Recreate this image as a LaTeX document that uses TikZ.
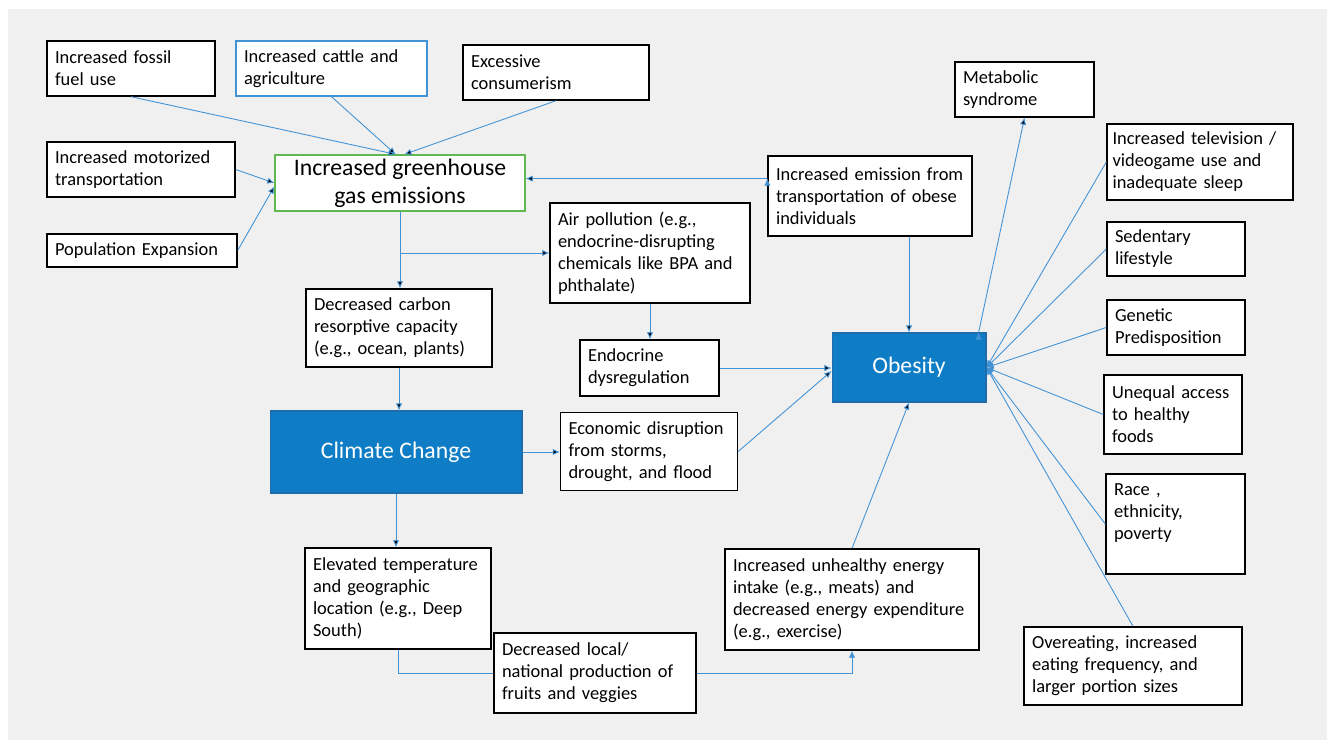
\documentclass[tikz,border=0pt]{standalone}
\usepackage{fontspec}
\setmainfont{Carlito}
\usepackage{xcolor}
\usetikzlibrary{arrows.meta,positioning}
\definecolor{linkblue}{RGB}{66,146,214}
\definecolor{fillblue}{RGB}{14,125,198}
\definecolor{edgeblue}{RGB}{30,108,172}
\definecolor{ghggreen}{RGB}{96,184,78}
\definecolor{canvas}{RGB}{240,240,240}

\begin{document}
\begin{tikzpicture}[x=0.02cm,y=-0.02cm,>={Latex[length=4pt,width=3.6pt]},
    font=\fontsize{10.5}{12.5}\selectfont,
    box/.style 2 args={draw,line width=0.8pt,fill=white,align=left,inner xsep=0.16cm,text width=#1,minimum height=#2},
    bigbox/.style={draw=edgeblue,fill=fillblue,text=white,line width=0.6pt,font=\fontsize{13.5}{16}\selectfont},
    link/.style={draw=linkblue,line width=0.5pt}]

    \useasboundingbox (0,0) rectangle (1327,740);
    \fill[canvas] (8,9) rectangle (1327,740);

    % Sources of emissions
    \node [box={3.04cm}{1.1cm}] at (131,68.5) (fossil) {Increased fossil\\fuel use};
    \node [box={3.5cm}{1.1cm},draw=linkblue] at (331.5,68.5) (cattle) {Increased cattle and\\agriculture};
    \node [box={3.4cm}{1.1cm}] at (556,72.5) (consumer) {Excessive\\consumerism};
    \node [box={3.44cm}{1.1cm}] at (141,169.5) (motor) {Increased motorized\\transportation};
    \node [box={3.48cm}{0.66cm}] at (142,250.5) (popul) {Population Expansion};
    \node [draw=ghggreen,line width=0.8pt,fill=white,minimum width=5cm,minimum height=1.12cm,inner ysep=0pt,align=center,font=\fontsize{13.5}{16}\selectfont] at (400,183) (ghg) {Increased greenhouse\\gas emissions};

    % Middle chain
    \node [box={3.76cm}{1.6cm}] at (870,196) (transport) {Increased emission from\\transportation of obese\\individuals};
    \node [box={3.68cm}{2cm}] at (650,253) (air) {Air pollution (e.g.,\\endocrine-disrupting\\chemicals like BPA and\\phthalate)};
    \node [box={3.4cm}{1.56cm}] at (399,328) (carbon) {Decreased carbon\\resorptive capacity\\(e.g., ocean, plants)};
    \node [box={2.46cm}{1.12cm}] at (649.5,368) (endo) {Endocrine\\dysregulation};
    \node [bigbox,minimum width=3.08cm,minimum height=1.38cm] at (909,367.5) (obesity) {Obesity};
    \node [bigbox,minimum width=5.04cm,minimum height=1.64cm] at (396,452) (climate) {Climate Change};
    \node [box={3.22cm}{1.56cm}] at (649,451.5) (econ) {Economic disruption\\from storms,\\drought, and flood};
    \node [box={3.4cm}{2.02cm}] at (398,598.5) (elevated) {Elevated temperature\\and geographic\\location (e.g., Deep\\South)};
    \node [box={3.72cm}{1.6cm}] at (595,673) (local) {Decreased local/\\national production of\\fruits and veggies};
    \node [box={4.76cm}{2.02cm}] at (852,599.5) (intake) {Increased unhealthy energy\\intake (e.g., meats) and\\decreased energy expenditure\\(e.g., exercise)};

    % Factors around obesity
    \node [box={2.46cm}{1.1cm}] at (1024.5,89.5) (metabolic) {Metabolic\\syndrome};
    \node [box={3.5cm}{1.52cm},inner xsep=0.11cm] at (1200,162) (tv) {Increased television /\\videogame use and\\inadequate sleep};
    \node [box={2.44cm}{1.08cm}] at (1176,249) (sedentary) {Sedentary\\lifestyle};
    \node [box={2.44cm}{1.1cm}] at (1176,327.5) (genetic) {Genetic\\Predisposition};
    \node [box={2.44cm}{1.58cm}] at (1173,414.5) (unequal) {Unequal access\\to healthy\\foods};
    \node [box={2.46cm}{2cm}] at (1175.5,524) (race) {Race ,\\ethnicity,\\poverty\\[2pt]~};
    \node [box={4.04cm}{1.56cm}] at (1133,666) (overeat) {Overeating, increased\\eating frequency, and\\larger portion sizes};

    \coordinate (ghgin) at ([yshift=2.5pt]ghg.east);

    % Edges into the emissions box
    \path[link,->]
    (fossil.south) edge ([xshift=-2.5pt]ghg.north)
    (cattle.south) edge ([xshift=-2.5pt]ghg.north)
    (consumer.south) edge ([xshift=2.5pt]ghg.north)
    (motor.east) edge (ghg.west)
    (popul.east) edge ([yshift=-2pt]ghg.west)
    (transport.west |- ghgin) edge (ghgin)
    ;

    % Edges down the chain
    \path[link,->]
    (ghg.south) edge (ghg.south |- carbon.north)
    (ghg.south |- air.west) edge (air.west)
    (air.south) edge (air.south |- endo.north)
    (carbon.south) edge (carbon.south |- climate.north)
    (climate.east) edge (climate.east -| econ.west)
    (climate.south) edge (climate.south |- elevated.north)
    (endo.east) edge (endo.east -| obesity.west)
    (econ.east) edge ([yshift=-2pt]obesity.west)
    (obesity.north |- transport.south) edge (obesity.north)
    (intake.north) edge (obesity.south)
    ([xshift=-4.5pt]obesity.north east) edge (metabolic.south)
    ;
    \draw[link] (ghg.south) -- (ghg.south |- air.west);
    \draw[link] (elevated.south) |- (local.west);
    \draw[link,->] (local.east) -| (intake.south);

    % Edges into obesity
    \foreach \src in {tv,sedentary,genetic,unequal,race}
      \draw[link,->] (\src.west) -- (obesity.east);
    \draw[link,->] (overeat.north) -- (obesity.east);

\end{tikzpicture}
\end{document}
